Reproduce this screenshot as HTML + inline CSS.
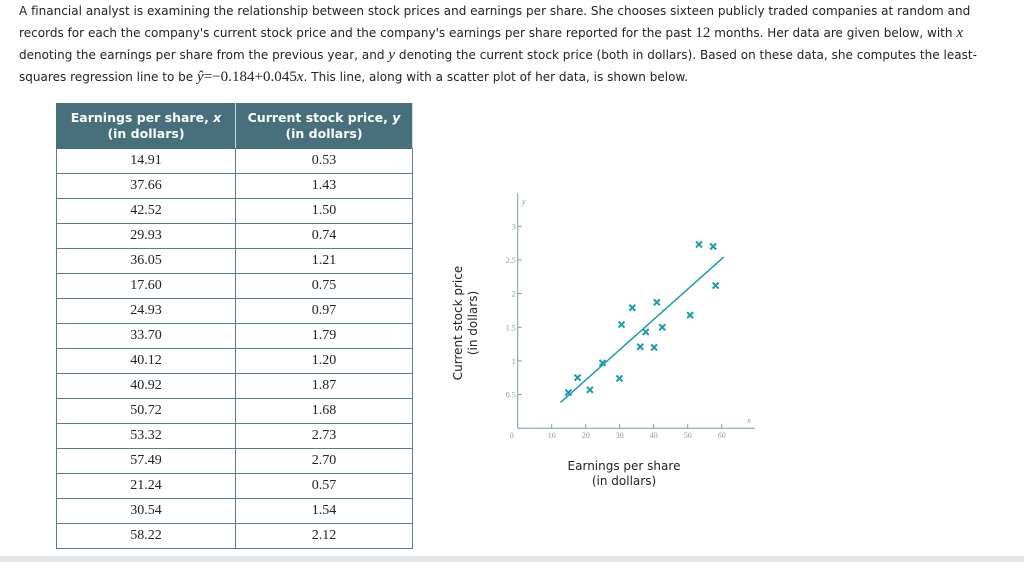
<!DOCTYPE html>
<html><head><meta charset="utf-8"><style>
body{margin:0;width:1024px;height:562px;background:#fff;position:relative;overflow:hidden;font-family:"DejaVu Sans","Liberation Sans",sans-serif;color:#222}
#intro{position:absolute;left:19px;top:0px;width:975px;font-size:12px;line-height:22px;letter-spacing:0.02px}
.m{font-family:"Liberation Serif",serif;font-size:15px}
.i{font-family:"Liberation Serif",serif;font-style:italic;font-size:15px}
table{position:absolute;left:56px;top:103px;border-collapse:collapse;width:357px}
th{background:#476f7c;color:#fff;font-size:12.5px;font-weight:bold;height:44px;padding:0;line-height:16px;border:1px solid #476f7c;border-right:1px solid #cfd8dc}
td{font-family:"Liberation Serif",serif;font-size:14px;text-align:center;height:24px;padding:0;border:1px solid #5a7d88}
#bar{position:absolute;left:0;top:556px;width:1024px;height:6px;background:#e3e6e8}
</style></head><body>
<div id="intro">A financial analyst is examining the relationship between stock prices and earnings per share. She chooses sixteen publicly traded companies at random and records for each the company's current stock price and the company's earnings per share reported for the past <span class="m">12</span> months. Her data are given below, with <span class="i">x</span> denoting the earnings per share from the previous year, and <span class="i">y</span> denoting the current stock price (both in dollars). Based on these data, she computes the least-squares regression line to be <span class="i">ŷ</span><span class="m">=−0.184+0.045</span><span class="i">x</span>. This line, along with a scatter plot of her data, is shown below.</div>
<table><thead><tr><th style="width:178px">Earnings per share, <i>x</i><br>(in dollars)</th><th>Current stock price, <i>y</i><br>(in dollars)</th></tr></thead><tbody id="tb"></tbody></table>
<svg id="ch" width="1024" height="562" style="position:absolute;left:0;top:0"></svg>
<div id="bar"></div>
<script>
const xs=[14.91,37.66,42.52,29.93,36.05,17.60,24.93,33.70,40.12,40.92,50.72,53.32,57.49,21.24,30.54,58.22];
const ys=[0.53,1.43,1.50,0.74,1.21,0.75,0.97,1.79,1.20,1.87,1.68,2.73,2.70,0.57,1.54,2.12];
const xTicks=[10,20,30,40,50,60];
const yTicks=[0.5,1,1.5,2,2.5,3];
const intercept=-0.184, slope=0.045;
const tb=document.getElementById('tb');
xs.forEach((x,i)=>{const tr=document.createElement('tr');


tr.innerHTML='<td>'+x.toFixed(2)+'</td><td>'+ys[i].toFixed(2)+'</td>';tb.appendChild(tr);});
const X=v=>517.7+v*3.4, Y=v=>428.2-v*67.3;
const s=document.getElementById('ch');const NS='http://www.w3.org/2000/svg';
function el(t,a,txt){const e=document.createElementNS(NS,t);for(const k in a)e.setAttribute(k,a[k]);if(txt!==undefined)e.textContent=txt;s.appendChild(e);return e;}
const ax='#7a9aa4';
let e=el('line',{x1:X(0),y1:Y(0),x2:755,y2:Y(0),stroke:ax,'stroke-width':1});

e=el('line',{x1:X(0),y1:Y(0),x2:X(0),y2:193,stroke:ax,'stroke-width':1});

const tf='font-family:"Liberation Serif",serif;font-size:8px;fill:#8a9ba1';
xTicks.forEach(t=>{el('line',{x1:X(t),y1:Y(0),x2:X(t),y2:Y(0)-4,stroke:ax});
const tt=el('text',{x:X(t),y:Y(0)+10,'text-anchor':'middle',style:tf},t);
});
yTicks.forEach(t=>{el('line',{x1:X(0),y1:Y(t),x2:X(0)+4,y2:Y(t),stroke:ax});
const tt=el('text',{x:X(0)-2,y:Y(t)+3,'text-anchor':'end',style:tf},t);
});
el('text',{x:X(0)-6,y:Y(0)+10,'text-anchor':'middle',style:tf},'0');
el('text',{x:747,y:423,style:tf+';font-style:italic'},'x');
el('text',{x:522,y:204,style:tf+';font-style:italic'},'y');
const lx1=12.6,lx2=60.6;
e=el('line',{x1:X(lx1),y1:Y(intercept+slope*lx1),x2:X(lx2),y2:Y(intercept+slope*lx2),stroke:'#1a9bb0','stroke-width':1.5});

xs.forEach((x,i)=>{const cx=X(x),cy=Y(ys[i]),d=3;
const p=el('path',{d:`M${cx-d},${cy-d}L${cx+d},${cy+d}M${cx-d},${cy+d}L${cx+d},${cy-d}`,stroke:'#1a9bb0','stroke-width':2});

});
const lf='font-family:"DejaVu Sans",sans-serif;font-size:12px;fill:#222';
e=el('text',{x:624,y:470,'text-anchor':'middle',style:lf},'Earnings per share');

el('text',{x:624,y:485,'text-anchor':'middle',style:lf},'(in dollars)');
const g=el('g',{transform:'translate(462,323) rotate(-90)'});
e=document.createElementNS(NS,'text');e.setAttribute('text-anchor','middle');e.setAttribute('style',lf);e.textContent='Current stock price';g.appendChild(e);

e=document.createElementNS(NS,'text');e.setAttribute('text-anchor','middle');e.setAttribute('y','15');e.setAttribute('style',lf);e.textContent='(in dollars)';g.appendChild(e);
</script>
</body></html>
